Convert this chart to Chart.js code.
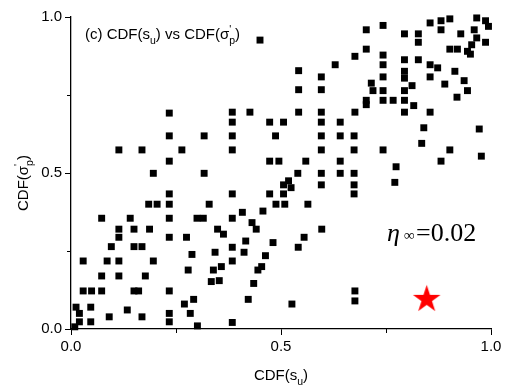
<!DOCTYPE html>
<html>
<head>
<meta charset="utf-8">
<script src="https://cdn.jsdelivr.net/npm/chart.js@4/dist/chart.umd.min.js"></script>
<style>
  html, body { margin: 0; padding: 0; background: #fff; }
  #wrap { width: 507px; height: 385px; }
</style>
</head>
<body>
<div id="wrap"><canvas id="canvas" width="507" height="385"></canvas></div>
<script>
// CDF(s_u) on x, CDF(sigma'_p) on y
const cdfSu = [
  0.234, 0.450, 0.542, 0.629, 0.596, 0.542, 0.596, 0.384, 0.426, 0.542, 0.596,
  0.384, 0.473, 0.506, 0.596, 0.641, 0.384, 0.487, 0.596, 0.641, 0.384, 0.596,
  0.473, 0.495, 0.559, 0.641, 0.540, 0.596, 0.641, 0.518, 0.506, 0.524, 0.596,
  0.384, 0.473, 0.506, 0.329, 0.488, 0.509, 0.564, 0.408, 0.457, 0.384, 0.431,
  0.234, 0.317, 0.114, 0.169, 0.264, 0.234, 0.196, 0.317, 0.234, 0.185, 0.205,
  0.234, 0.073, 0.141, 0.234, 0.300, 0.315,
  0.114, 0.150, 0.187, 0.114, 0.234, 0.275, 0.096, 0.150, 0.169, 0.288, 0.029,
  0.086, 0.114, 0.196, 0.279, 0.073, 0.114, 0.177, 0.029, 0.049, 0.073, 0.150,
  0.161, 0.234, 0.292, 0.270, 0.012, 0.047, 0.134, 0.020, 0.284, 0.234, 0.091,
  0.169, 0.020, 0.047, 0.234, 0.009, 0.301,
  0.349, 0.441, 0.597, 0.363, 0.555, 0.416, 0.481, 0.384, 0.541, 0.343, 0.412,
  0.463, 0.384, 0.358, 0.454, 0.339, 0.445, 0.334, 0.353, 0.435, 0.422, 0.526,
  0.384,
  0.676, 0.676,
  0.840, 0.972, 0.674, 0.835, 0.674, 0.743, 0.902, 0.977, 0.881, 0.774, 0.674,
  0.771, 0.674, 0.674,
  0.743, 0.703, 0.855, 0.881, 0.881, 0.902, 0.966, 0.987, 0.994, 0.794, 0.827,
  0.928, 0.960, 0.966, 0.987, 0.827, 0.954, 0.703, 0.902, 0.920, 0.944, 0.951,
  0.676, 0.743, 0.743, 0.794, 0.827, 0.855, 0.873, 0.914, 0.794, 0.794, 0.743,
  0.855, 0.936, 0.812, 0.715, 0.890, 0.719, 0.743, 0.794, 0.944, 0.919, 0.703,
  0.703, 0.743, 0.767, 0.794, 0.816, 0.676, 0.794, 0.855
];

const cdfSp = [
  0.692, 0.926, 0.828, 0.847, 0.808, 0.767, 0.767, 0.695, 0.695, 0.695, 0.695,
  0.663, 0.663, 0.663, 0.663, 0.663, 0.619, 0.619, 0.619, 0.619, 0.574, 0.574,
  0.538, 0.538, 0.538, 0.538, 0.499, 0.499, 0.499, 0.475, 0.462, 0.453, 0.462,
  0.433, 0.433, 0.433, 0.400, 0.400, 0.400, 0.400, 0.374, 0.378, 0.355, 0.341,
  0.619, 0.619, 0.574, 0.574, 0.574, 0.538, 0.499, 0.499, 0.433, 0.400, 0.400,
  0.400, 0.355, 0.355, 0.355, 0.355, 0.355,
  0.320, 0.320, 0.320, 0.294, 0.294, 0.294, 0.264, 0.264, 0.264, 0.239, 0.218,
  0.218, 0.218, 0.218, 0.189, 0.170, 0.170, 0.170, 0.122, 0.122, 0.122, 0.122,
  0.122, 0.122, 0.095, 0.080, 0.070, 0.070, 0.061, 0.050, 0.050, 0.050, 0.039,
  0.039, 0.023, 0.023, 0.023, 0.007, 0.010,
  0.320, 0.320, 0.320, 0.304, 0.294, 0.282, 0.277, 0.262, 0.262, 0.246, 0.246,
  0.235, 0.218, 0.200, 0.200, 0.189, 0.189, 0.152, 0.155, 0.146, 0.095, 0.080,
  0.021,
  0.122, 0.090,
  0.645, 0.641, 0.619, 0.595, 0.574, 0.574, 0.574, 0.554, 0.538, 0.520, 0.499,
  0.470, 0.462, 0.433,
  0.973, 0.959, 0.981, 0.988, 0.959, 0.994, 0.997, 0.988, 0.970, 0.946, 0.946,
  0.946, 0.959, 0.933, 0.919, 0.919, 0.911, 0.897, 0.897, 0.897, 0.890, 0.881,
  0.874, 0.878, 0.847, 0.863, 0.863, 0.847, 0.837, 0.826, 0.826, 0.804, 0.808,
  0.808, 0.796, 0.780, 0.788, 0.785, 0.764, 0.764, 0.764, 0.764, 0.743, 0.733,
  0.719, 0.733, 0.733, 0.733, 0.716, 0.695, 0.695, 0.695
];

// the red star
const starX = [0.847];
const starY = [0.095];

const majorTicks = [0, 0.5, 1];
const minorTicks = [0.25, 0.75];
const etaText = "0.02";

const SANS = "'Liberation Sans', Arial, sans-serif";
const SERIF = "'Liberation Serif', 'Times New Roman', serif";

const make_star = (r) => {
  const c = document.createElement("canvas");
  const size = Math.ceil(r * 2) + 2;
  c.width = size;
  c.height = size;
  const g = c.getContext("2d");
  const cx = size / 2, cy = size / 2, inner = r * 0.382;
  g.beginPath();
  for (let i = 0; i < 10; i++) {
    const rad = i % 2 === 0 ? r : inner;
    const a = -Math.PI / 2 + i * Math.PI / 5;
    const px = cx + rad * Math.cos(a), py = cy + rad * Math.sin(a);
    if (i === 0) g.moveTo(px, py); else g.lineTo(px, py);
  }
  g.closePath();
  g.fillStyle = "#ff0000";
  g.fill();
  return c;
};

// text with sub/superscripts; parts: [text, kind] kind "", "sub", "sup0" (sup, no advance)
const rich_width = (ctx, parts, size, family) => {
  let w = 0;
  for (const [t, k] of parts) {
    ctx.font = (k ? size * 0.7 : size) + "px " + family;
    if (k !== "sup0") w += ctx.measureText(t).width;
  }
  return w;
};

const draw_rich = (ctx, parts, x, y, size, family) => {
  let cx = x;
  for (const [t, k] of parts) {
    ctx.font = (k ? size * 0.7 : size) + "px " + family;
    let dy = 0;
    if (k === "sub") dy = size * 0.3;
    if (k === "sup0") dy = -size * 0.38;
    ctx.fillText(t, cx, y + dy);
    if (k !== "sup0") cx += ctx.measureText(t).width;
  }
};

const xTitle = [["CDF(s", ""], ["u", "sub"], [")", ""]];
const yTitle = [["CDF(σ", ""], ["'", "sup0"], ["p", "sub"], [")", ""]];
const panelTitle = [["(c) CDF(s", ""], ["u", "sub"], [") vs CDF(σ", ""], ["'", "sup0"], ["p", "sub"], [")", ""]];

const labels_plugin = {
  id: "labels",
  afterDraw: (chart) => {
    const ctx = chart.ctx;
    const xs = chart.scales.x, ys = chart.scales.y;
    ctx.save();
    ctx.fillStyle = "#000";
    ctx.strokeStyle = "#000";
    ctx.textBaseline = "alphabetic";
    ctx.textAlign = "left";

    // minor ticks
    ctx.lineWidth = 1;
    ctx.beginPath();
    for (const v of minorTicks) {
      const px = Math.round(xs.getPixelForValue(v)) + 0.5;
      ctx.moveTo(px, xs.top);
      ctx.lineTo(px, xs.top + 4);
      const py = Math.round(ys.getPixelForValue(v)) + 0.5;
      ctx.moveTo(ys.right, py);
      ctx.lineTo(ys.right - 4, py);
    }
    ctx.stroke();

    // x title
    const xw = rich_width(ctx, xTitle, 15, SANS);
    draw_rich(ctx, xTitle, (xs.left + xs.right) / 2 - xw / 2, 380, 15, SANS);

    // y title
    const yw = rich_width(ctx, yTitle, 15, SANS);
    ctx.save();
    ctx.translate(28, 183);
    ctx.rotate(-Math.PI / 2);
    draw_rich(ctx, yTitle, -yw / 2, 0, 15, SANS);
    ctx.restore();

    // panel title
    draw_rich(ctx, panelTitle, 85, 39, 15, SANS);

    // eta annotation
    const ex = 387, ey = 241;
    ctx.font = "italic 26px " + SERIF;
    ctx.fillText("η", ex, ey);
    ctx.font = "15px " + SERIF;
    ctx.fillText("∞", ex + 17, ey - 1);
    ctx.font = "26px " + SERIF;
    ctx.fillText("=" + etaText, ex + 29, ey);
    ctx.restore();
  }
};

const tick_label = (v) => majorTicks.includes(v) ? v.toFixed(1) : "";

const axis = (fit) => ({
  type: "linear",
  min: 0,
  max: 1,
  border: { display: true, color: "#000", width: 1.3 },
  grid: {
    display: true,
    drawOnChartArea: false,
    drawTicks: true,
    tickLength: 6,
    lineWidth: 1,
    color: (c) => majorTicks.includes(c.tick.value) ? "#000" : "rgba(0,0,0,0)"
  },
  ticks: {
    stepSize: 0.25,
    autoSkip: false,
    maxRotation: 0,
    padding: 3,
    color: "#000",
    font: { family: SANS, size: 15 },
    callback: tick_label
  },
  afterFit: fit
});

const canvas = document.getElementById("canvas").getContext("2d");

const plot = new Chart(canvas, {
  type: "scatter",
  data: {
    datasets: [
      {
        label: "points",
        data: cdfSu.map((x, i) => ({ x: x, y: cdfSp[i] })),
        pointStyle: "rect",
        pointRadius: 4.9,
        backgroundColor: "#000",
        borderWidth: 0,
        clip: false
      },
      {
        label: "star",
        data: starX.map((x, i) => ({ x: x, y: starY[i] })),
        pointStyle: make_star(14.5),
        pointRadius: 15,
        clip: false
      }
    ]
  },
  options: {
    responsive: false,
    animation: false,
    layout: { padding: { top: 17, right: 13, left: 0, bottom: 0 } },
    plugins: {
      legend: { display: false },
      tooltip: { enabled: false }
    },
    scales: {
      x: axis((s) => { s.height = 56; }),
      y: axis((s) => { s.width = 71; })
    }
  },
  plugins: [labels_plugin]
});
</script>
</body>
</html>
